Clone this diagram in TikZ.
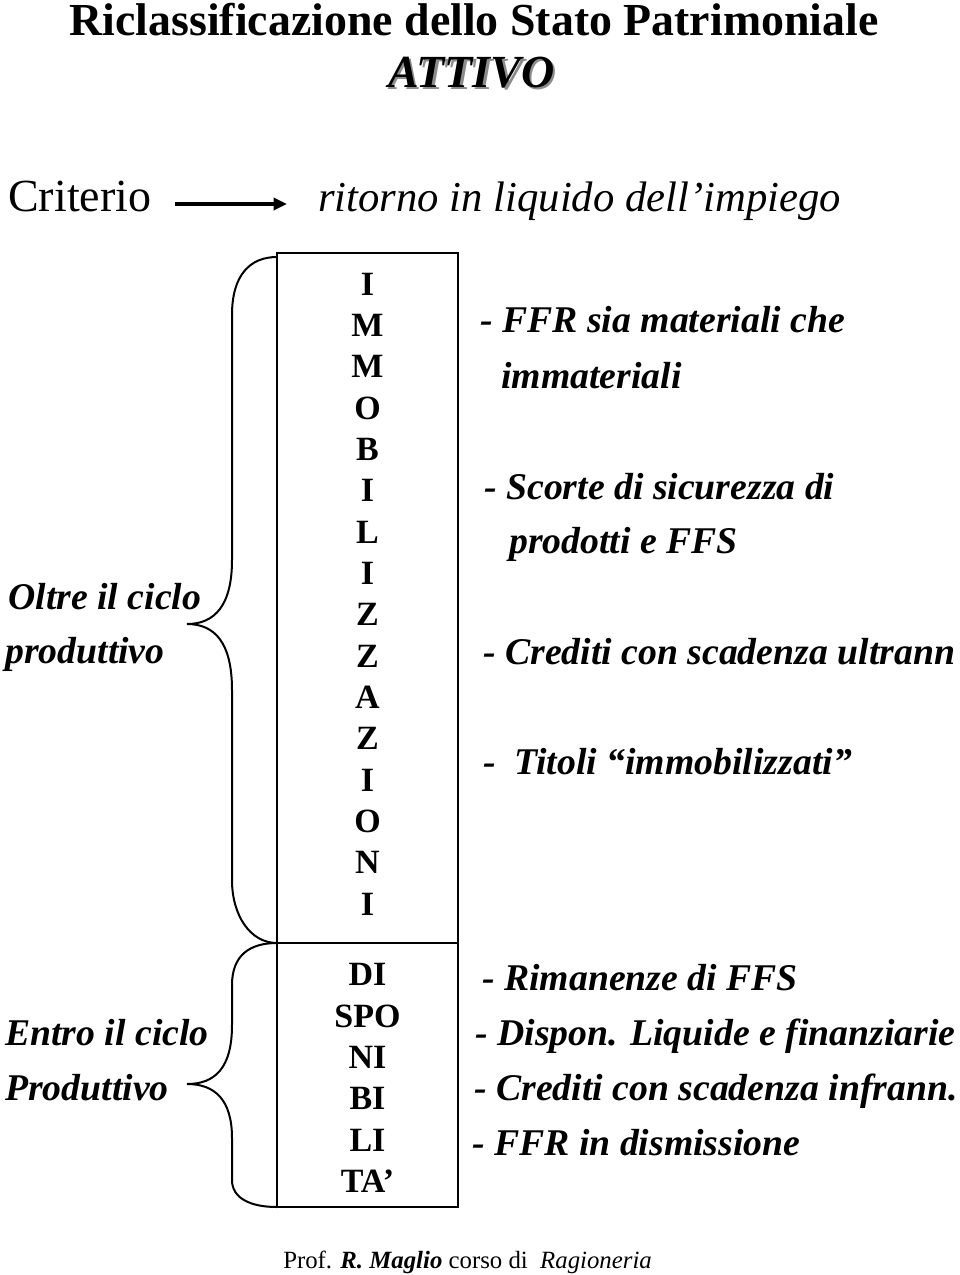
\documentclass[tikz,border=0pt]{standalone}
\usepackage{fontspec}
\setmainfont{Liberation Serif}
\usetikzlibrary{arrows.meta}
\tikzset{
  px/.style={x=0.75pt,y=-0.75pt},
  body/.style={anchor=mid west,inner sep=0pt,font=\fontsize{28.3}{33}\selectfont\bfseries\itshape},
  boxletters/.style={align=center,inner sep=0pt,font=\fontsize{25.5}{31}\selectfont\bfseries},
  bracestyle/.style={line width=1.5pt},
  boxline/.style={line width=1.5pt}
}
\begin{document}
\begin{tikzpicture}[px]
\useasboundingbox (0,0) rectangle (960,1275);
% title
\node[inner sep=0pt,font=\fontsize{34.4}{38}\selectfont\bfseries] (title) at (474,20) {Riclassificazione dello Stato Patrimoniale};
\node[inner sep=0pt,text=black!45,font=\fontsize{34.5}{38}\selectfont\bfseries\itshape] (attivoshadow) at (474,75) {ATTIVO};
\node[inner sep=0pt,font=\fontsize{34.5}{38}\selectfont\bfseries\itshape] (attivo) at (471.5,72.5) {ATTIVO};
% criterio
\node[anchor=mid west,inner sep=0pt,font=\fontsize{34.5}{38}\selectfont] (crit) at (8,208) {Criterio};
\node[anchor=mid west,inner sep=0pt,font=\fontsize{32}{38}\selectfont\itshape] (ritorno) at (318,208) {ritorno in liquido dell’impiego};
\draw[line width=3.2pt,-{Triangle[length=10pt,width=9pt]}] ([xshift=23*0.75pt,yshift=3pt]crit.mid east) -- ([xshift=-31*0.75pt,yshift=3pt]ritorno.mid west);
% box
\draw[boxline] (277,253) rectangle (458,1207);
\draw[boxline] (277,943) -- (458,943);
\node[boxletters] (imm) at (367.5,594) {I\\M\\M\\O\\B\\I\\L\\I\\Z\\Z\\A\\Z\\I\\O\\N\\I};
\node[boxletters] (disp) at (367.5,1078) {DI\\SPO\\NI\\BI\\LI\\TA’};
% braces
\draw[bracestyle] (277,257) .. controls (250,257) and (232,275) .. (232,315)
  -- (232,560) .. controls (232,605) and (215,624) .. (187,624)
  .. controls (215,624) and (232,643) .. (232,690)
  -- (232,880) .. controls (232,915) and (250,943) .. (277,943);
\draw[bracestyle] (277,943) .. controls (250,943) and (232,955) .. (232,985)
  -- (232,1025) .. controls (232,1068) and (215,1084) .. (187,1084)
  .. controls (215,1084) and (232,1100) .. (232,1138)
  -- (232,1180) .. controls (232,1198) and (250,1207) .. (277,1207);
% left labels
\node[body] (oltre1) at (8,606) {Oltre il ciclo};
\node[body] (oltre2) at (5,660) {produttivo};
\node[body] (entro1) at (5,1042) {Entro il ciclo};
\node[body] (entro2) at (5,1097) {Produttivo};
% right texts
\node[body] (r1) at (480,329) {- FFR sia materiali che};
\node[body] (r1b) at (501,385) {immateriali};
\node[body] (r2) at (484,496) {- Scorte di sicurezza di};
\node[body] (r2b) at (509,550) {prodotti e FFS};
\node[body] (r3) at (483,661) {- Crediti con scadenza ultrann};
\node[body] (r4) at (483,771) {-\hspace{0.5em}Titoli “immobilizzati”};
\node[body] (s1) at (482,987) {- Rimanenze di FFS};
\node[body] (s2) at (475,1042) {- Dispon. Liquide e finanziarie};
\node[body] (s3) at (474,1097) {- Crediti con scadenza infrann.};
\node[body] (s4) at (472,1152) {- FFR in dismissione};
% footer
\node[anchor=mid west,inner sep=0pt,font=\fontsize{18.6}{22}\selectfont] (footer) at (283,1265) {Prof. \textbf{\textit{R. Maglio}} corso di \ \textit{Ragioneria}};
\end{tikzpicture}
\end{document}
